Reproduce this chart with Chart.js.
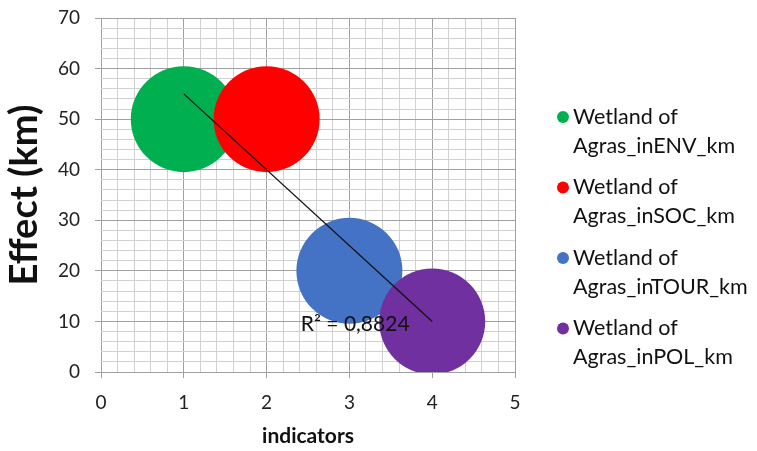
<!DOCTYPE html>
<html>
<head>
<meta charset="utf-8">
<script src="https://cdn.jsdelivr.net/npm/chart.js@4.4.1/dist/chart.umd.min.js"></script>
<style>
  html, body { margin: 0; padding: 0; background: #fff; }
  #wrap { width: 757px; height: 451px; }
</style>
</head>
<body>
<div id="wrap"><canvas id="grafico"></canvas></div>
<script>
const seriesNames = ['Wetland of Agras_inENV_km', 'Wetland of Agras_inSOC_km', 'Wetland of Agras_inTOUR_km', 'Wetland of Agras_inPOL_km'];
const indicators = [1, 2, 3, 4];
const effects = [50, 50, 20, 10];
const bubbleSizes = [53, 53, 53, 53];
const xMajorTicks = [0, 1, 2, 3, 4, 5];
const yMajorTicks = [0, 10, 20, 30, 40, 50, 60, 70];
const r2LabelAt = [3.07, 9.5];

const cores = ['#00b050', '#ff0000', '#4472c4', '#7030a0'];
const FONTE = 'Lato, "Open Sans", sans-serif';

// linha de tendência (mínimos quadrados)
const n = indicators.length;
const mx = indicators.reduce((a, b) => a + b, 0) / n;
const my = effects.reduce((a, b) => a + b, 0) / n;
let sxy = 0, sxx = 0, syy = 0;
indicators.forEach((x, i) => {
    sxy += (x - mx) * (effects[i] - my);
    sxx += (x - mx) ** 2;
    syy += (effects[i] - my) ** 2;
});
const slope = sxy / sxx;
const intercept = my - slope * mx;
const r2 = (sxy * sxy) / (sxx * syy);
const xIni = Math.min(...indicators), xFim = Math.max(...indicators);

const ehMajor = (v, lista) => lista.some(t => Math.abs(t - v) < 1e-6);

const datasets = seriesNames.map((nome, i) => ({
    type: 'bubble',
    label: nome,
    data: [{ x: indicators[i], y: effects[i], r: bubbleSizes[i] }],
    backgroundColor: cores[i],
    borderWidth: 0,
    order: 10 - i
}));
datasets.push({
    type: 'line',
    label: 'tendencia',
    data: [{ x: xIni, y: intercept + slope * xIni }, { x: xFim, y: intercept + slope * xFim }],
    borderColor: '#111',
    borderWidth: 1.3,
    pointRadius: 0,
    order: 0
});

function quebrarTexto(ctx, texto, largura) {
    const palavras = texto.split(' ');
    const linhas = [];
    let atual = '';
    palavras.forEach(p => {
        const teste = atual ? atual + ' ' + p : p;
        if (ctx.measureText(teste).width > largura && atual) {
            linhas.push(atual);
            atual = p;
        } else atual = teste;
    });
    if (atual) linhas.push(atual);
    return linhas;
}

const extras = {
    id: 'extras',
    afterDraw(chart) {
        const { ctx, scales: { x, y } } = chart;
        ctx.save();
        ctx.fillStyle = '#111';
        ctx.font = '21px ' + FONTE;
        ctx.textAlign = 'center';
        ctx.textBaseline = 'middle';
        ctx.fillText('R² = ' + r2.toFixed(4).replace('.', ','), x.getPixelForValue(r2LabelAt[0]), y.getPixelForValue(r2LabelAt[1]));

        // legenda
        ctx.font = '21.5px ' + FONTE;
        ctx.textAlign = 'left';
        let yy = 117;
        seriesNames.forEach((nome, i) => {
            ctx.fillStyle = cores[i];
            ctx.beginPath();
            ctx.arc(563, yy, 6, 0, Math.PI * 2);
            ctx.fill();
            ctx.fillStyle = '#111';
            quebrarTexto(ctx, nome, 175).forEach((linha, k) => {
                ctx.fillText(linha, 573, yy + k * 29);
            });
            yy += 70.5;
        });
        ctx.restore();
    }
};

new Chart(document.getElementById('grafico'), {
    data: { datasets },
    plugins: [extras],
    options: {
        responsive: true,
        maintainAspectRatio: false,
        animation: false,
        events: [],
        layout: { autoPadding: false, padding: { top: 18, right: 242, bottom: 0, left: 0 } },
        plugins: { legend: { display: false }, tooltip: { enabled: false } },
        scales: {
            x: {
                type: 'linear',
                min: xMajorTicks[0],
                max: xMajorTicks[xMajorTicks.length - 1],
                afterFit: s => { s.height = 79; s.paddingLeft = 0; s.paddingRight = 0; },
                border: { display: false },
                grid: {
                    color: c => ehMajor(c.tick.value, xMajorTicks) ? '#a0a0a0' : '#d0d0d0',
                    tickColor: c => ehMajor(c.tick.value, xMajorTicks) ? '#a0a0a0' : 'rgba(0,0,0,0)',
                    tickLength: 6
                },
                ticks: {
                    stepSize: 0.2,
                    autoSkip: false,
                    maxRotation: 0,
                    padding: 13,
                    color: '#222',
                    font: { family: FONTE, size: 19 },
                    callback: v => ehMajor(v, xMajorTicks) ? String(Math.round(v)) : ''
                },
                title: {
                    display: true,
                    text: 'indicators',
                    color: '#111',
                    font: { family: FONTE, size: 21, weight: 'bold' },
                    padding: { top: 0, bottom: 2 }
                }
            },
            y: {
                type: 'linear',
                min: yMajorTicks[0],
                max: yMajorTicks[yMajorTicks.length - 1],
                afterFit: s => { s.width = 101; s.paddingTop = 0; s.paddingBottom = 0; },
                border: { display: false },
                grid: {
                    color: c => ehMajor(c.tick.value, yMajorTicks) ? '#a0a0a0' : '#d0d0d0',
                    tickColor: c => ehMajor(c.tick.value, yMajorTicks) ? '#a0a0a0' : 'rgba(0,0,0,0)',
                    tickLength: 6
                },
                ticks: {
                    stepSize: 2,
                    autoSkip: false,
                    padding: 15,
                    color: '#222',
                    font: { family: FONTE, size: 19 },
                    callback: v => ehMajor(v, yMajorTicks) ? String(Math.round(v)) : ''
                },
                title: {
                    display: true,
                    text: 'Effect (km)',
                    color: '#111',
                    font: { family: FONTE, size: 38, weight: 'bold' },
                    padding: { top: 2, bottom: 0 }
                }
            }
        }
    }
});
</script>
</body>
</html>
